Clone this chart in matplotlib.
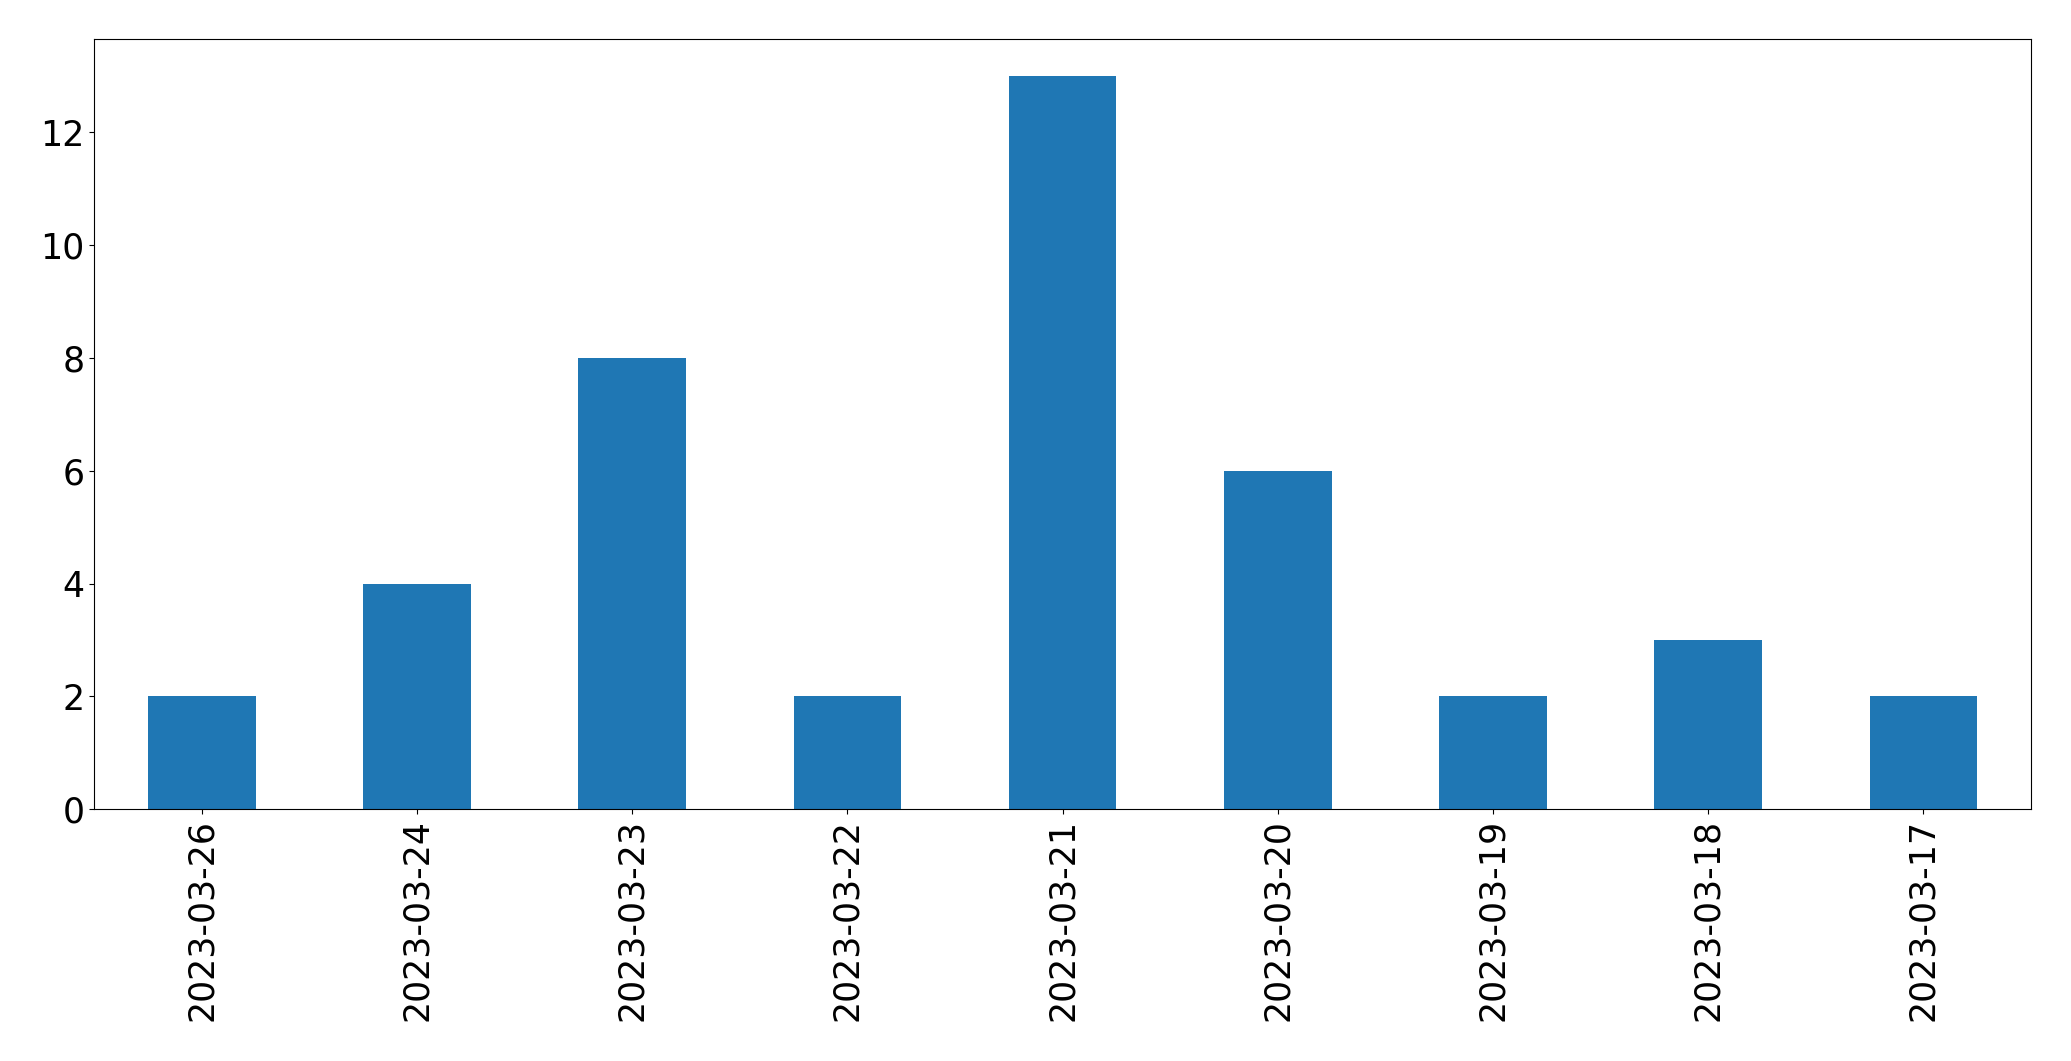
import matplotlib
matplotlib.use("Agg")
import matplotlib.pyplot as plt

dates = ["2023-03-26", "2023-03-24", "2023-03-23", "2023-03-22", "2023-03-21",
         "2023-03-20", "2023-03-19", "2023-03-18", "2023-03-17"]
counts = [2, 4, 8, 2, 13, 6, 2, 3, 2]

fig = plt.figure(figsize=(20.71, 10.61), dpi=100)
ax = fig.add_axes([0.0455, 0.2372, 0.9352, 0.7258])

x = range(len(dates))
ax.bar(x, counts, width=0.5, color="#1f77b4")
ax.set_xlim(-0.5, len(dates) - 0.5)
ax.set_xticks(list(x))
ax.set_xticklabels(dates, rotation=90)
ax.tick_params(labelsize=25)

fig.savefig("out.png", dpi=100)
